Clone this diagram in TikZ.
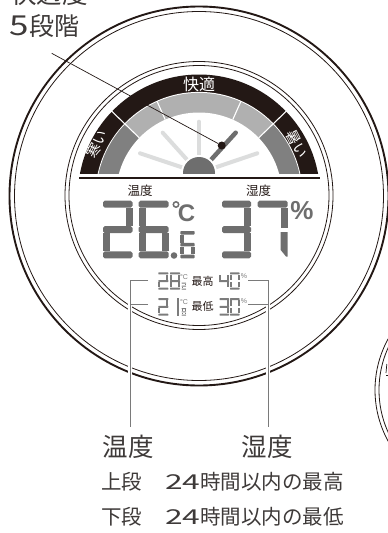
\documentclass[tikz,border=0pt]{standalone}
\usepackage{fontspec}
\usepackage{graphicx}
\setmainfont{Noto Sans CJK JP}
\newfontfamily\lat{Liberation Sans}
\definecolor{ink}{HTML}{231815}
\definecolor{capt}{HTML}{3E3A39}
\definecolor{seg}{HTML}{6E6E6E}
\definecolor{segl}{HTML}{7C7C7C}
\definecolor{lead}{HTML}{7A7A7A}
\definecolor{bandd}{HTML}{808080}
\definecolor{bandl}{HTML}{B0B0B0}
\definecolor{fan}{HTML}{DCDDDD}
\newcommand\fsz[1]{\fontsize{#1pt}{#1pt}\selectfont}
\newcommand\sga{\fill[fill=\dc,rounded corners=\rc pt] (\xa,\ya) rectangle (\xb,\ya+\tk);}
\newcommand\sgd{\fill[fill=\dc,rounded corners=\rc pt] (\xa,\yb-\tk) rectangle (\xb,\yb);}
\newcommand\sgg{\fill[fill=\dc,rounded corners=\rc pt] (\xa,\ym-\tk/2) rectangle (\xb,\ym+\tk/2);}
\newcommand\sgf{\fill[fill=\dc] (\xa,\ya+\tk+\gp) rectangle (\xa+\tk,\ym-\tk/2-\gp);}
\newcommand\sgb{\fill[fill=\dc] (\xb-\tk,\ya+\tk+\gp) rectangle (\xb,\ym-\tk/2-\gp);}
\newcommand\sge{\fill[fill=\dc] (\xa,\ym+\tk/2+\gp) rectangle (\xa+\tk,\yb-\tk-\gp);}
\newcommand\sgc{\fill[fill=\dc] (\xb-\tk,\ym+\tk/2+\gp) rectangle (\xb,\yb-\tk-\gp);}
% digit: x0,y0,x1,y1,thickness,colour,segments
\newcommand\dgt[7]{%
  \def\xa{#1}\def\ya{#2}\def\xb{#3}\def\yb{#4}\def\tk{#5}\def\dc{#6}%
  \def\gp{0.3}\pgfmathsetmacro\ym{(#2+#4)/2}\pgfmathsetmacro\rc{#5/4}%
  \foreach \s in {#7}{\csname sg\s\endcsname}}
\tikzset{
  ringthick/.style={draw=ink,line width=1.9pt},
  ringthin/.style={draw=ink,line width=0.8pt},
  leadline/.style={draw=lead,line width=0.9pt},
  halo/.style={draw=white,line width=3.6pt},
  lbl/.style={inner sep=0pt,text=ink},
  caplbl/.style={inner sep=0pt,text=capt},
  onband/.style={inner sep=0pt,text=white,font=\fsz{14.5}},
  spoke/.style={draw=fan,line width=4pt,line cap=round},
  pointer/.style={draw=seg,line width=4.5pt,line cap=round},
}
\begin{document}
\begin{tikzpicture}[x=1pt,y=-1pt]
\useasboundingbox (0,0) rectangle (388,533);
\clip (0,0) rectangle (388,533);
% outer rings
\draw[ringthick] (199,196) circle[radius=189.5];
\draw[ringthin] (199,196) circle[radius=184.5];
% right partial dial
\draw[ringthin] (481,390) circle[radius=106];
\draw[ringthin] (481,390) circle[radius=102];
\draw[draw=ink,line width=0.7pt] (386.8,364) -- (386,373);
\draw[draw=ink,line width=0.7pt] (386,375) -- (388,375);
% dial rings
\draw[ringthin] (199,195.5) circle[radius=134];
\draw[ringthin] (199,195.5) circle[radius=130];
% gauge
\begin{scope}
\clip (0,0) rectangle (388,173);
\fill[ink] (199,195.5) circle[radius=121];
\fill[white] (199,195.5) circle[radius=103.6];
\fill[bandl] (199,195.5) circle[radius=102.6];
\begin{scope}[shift={(199,195.5)},y=1pt]
\begin{scope}
\clip (0,0) circle[radius=102.6];
\fill[bandd] (0,0) -- (136:125) -- (180:125) -- (200:125) -- cycle;
\fill[bandd] (0,0) -- (44:125) -- (0:125) -- (-20:125) -- cycle;
\end{scope}
\fill[white] (0,0) circle[radius=83];
\draw[white,line width=1.1pt] (136:83) -- (136:122);
\draw[white,line width=1.1pt] (44:83) -- (44:122);
\draw[white,line width=1.1pt] (114:83) -- (114:103);
\draw[white,line width=1.1pt] (66:83) -- (66:103);
\end{scope}
\coordinate (hub) at (199,173);
\coordinate (s1) at (140,153.3);
\coordinate (s2) at (162.7,132.7);
\coordinate (s3) at (199,121.7);
\coordinate (s4) at (257.3,153.3);
\coordinate (s5) at (235.7,132.7);
\draw[spoke] (s1) -- (hub);
\draw[spoke] (s2) -- (hub);
\draw[spoke] (s3) -- (hub);
\draw[spoke] (s4) -- (hub);
\draw[pointer] (s5) -- (hub);
\fill[white] (hub) circle[radius=18];
\fill[seg] (hub) circle[radius=16];
\end{scope}
\node[onband] (kaiteki) at (199,84) {\fsz{16}快適};
\node[onband,rotate=63] (samui) at (97,144) {寒い};
\node[onband,rotate=-63] (atsui) at (297,144) {暑い};
% pointer dot and leader
\node[circle,fill=ink,inner sep=0pt,minimum size=8pt] (dot) at (221.7,145.5) {};
\coordinate (lstart) at (51.7,53.3);
\draw[draw=ink,line width=0.7pt] (lstart) -- (dot);
% divider
\coordinate (da) at (79,178);
\coordinate (db) at (320,178);
\draw[draw=ink,line width=1.7pt] (da) -- (db);
\node[lbl,font=\fsz{12.5}] (ondo) at (140,190.5) {温度};
\node[lbl,font=\fsz{12.5}] (shitsudo) at (258.5,190.5) {湿度};
% big digits
\dgt{103}{200.7}{132.5}{258.3}{7}{seg}{a,b,g,e,d}
\dgt{138.7}{200.7}{168.7}{258.3}{7}{seg}{a,f,g,e,c,d}
\dgt{180.3}{231}{194.7}{258.3}{3.6}{seg}{a,f,g,e,c,d}
\fill[seg] (174,255.5) circle[radius=3.3];
\draw[draw=seg,line width=1.5pt] (176,204.5) circle[radius=2.7];
\node[inner sep=0pt,text=seg,font=\lat\bfseries\fsz{24}] (degc) at (186.5,213.5) {C};
\dgt{222}{200.7}{251}{258.3}{7}{seg}{a,b,g,c,d}
\fill[seg] (257.7,200.7) [rounded corners=1.7pt] rectangle (287.7,207.7);
\fill[seg] (280.7,208) rectangle (287.7,227.5);
\fill[seg] (280.7,232) -- (287.7,232) -- (287.7,256.5) -- (286,256.5) -- (280.7,250) -- cycle;
\node[inner sep=0pt,text=seg,font=\lat\bfseries\fsz{26}] (pct) at (302,210.5) {\%};
% upper small row
\dgt{158.3}{272.3}{168.3}{289.7}{2}{segl}{a,b,g,e,d}
\dgt{170}{272.3}{180}{289.7}{2}{segl}{a,b,f,g,e,c,d}
\dgt{181.7}{282.5}{186}{289.7}{1.1}{segl}{a,b,g,e,d}
\node[inner sep=0pt,text=segl,font=\lat\fsz{7}] (c1) at (184,277) {°C};
\node[lbl,font=\fsz{11}] (saiko) at (202.5,281) {最高};
\dgt{219}{272.3}{229}{289.7}{2}{segl}{f,b,g,c}
\dgt{230}{272.3}{239.5}{289.7}{2}{segl}{a,b,f,e,c,d}
\node[inner sep=0pt,text=segl,font=\lat\fsz{7}] (p1) at (244,276) {\%};
% lower small row
\dgt{158.3}{298}{168.3}{315.7}{2}{segl}{a,b,g,e,d}
\fill[segl] (176.6,298) rectangle (178.7,315.7);
\dgt{181.7}{308}{186}{315.7}{1.1}{segl}{a,b,f,g,e,c,d}
\node[inner sep=0pt,text=segl,font=\lat\fsz{7}] (c2) at (184,302) {°C};
\node[lbl,font=\fsz{11}] (saitei) at (202.5,306.5) {最低};
\dgt{219.5}{298}{229}{315.7}{2}{segl}{a,b,g,c,d}
\dgt{230}{298}{239.5}{315.7}{2}{segl}{a,b,f,e,c,d}
\node[inner sep=0pt,text=segl,font=\lat\fsz{7}] (p2) at (244,301) {\%};
% leaders
\coordinate (l1) at (148,280.7);
\coordinate (l1c) at (130,280.7);
\coordinate (l1e) at (130,427);
\coordinate (l2) at (148,304.3);
\coordinate (l2e) at (130,304.3);
\coordinate (r1) at (248,280.7);
\coordinate (r1c) at (268,280.7);
\coordinate (r1e) at (268,427);
\coordinate (r2) at (248,304.3);
\coordinate (r2e) at (268,304.3);
\draw[halo] (l1c) -- (l1e);
\draw[halo] (r1c) -- (r1e);
\draw[leadline] (l1) -- (l1c) -- (l1e);
\draw[leadline] (l2) -- (l2e);
\draw[leadline] (r1) -- (r1c) -- (r1e);
\draw[leadline] (r2) -- (r2e);
% captions
\node[caplbl,font=\fsz{25.5},anchor=west] (t1) at (11,-6) {快適度};
\node[caplbl,font=\fsz{25},anchor=west] (t2) at (9.5,26) {\scalebox{1.4}[1.1]{5}段階};
\node[caplbl,font=\fsz{25.5}] (b1) at (128.3,447) {温度};
\node[caplbl,font=\fsz{25.5}] (b2) at (267,447) {湿度};
\node[caplbl,font=\fsz{20.5},anchor=west] (b3) at (101,482) {上段};
\node[caplbl,font=\fsz{20.5},anchor=west] (b4) at (165,482) {\scalebox{1.55}[1]{24}時間以内の最高};
\node[caplbl,font=\fsz{20.5},anchor=west] (b5) at (101,516.7) {下段};
\node[caplbl,font=\fsz{20.5},anchor=west] (b6) at (165,516.7) {\scalebox{1.55}[1]{24}時間以内の最低};
\end{tikzpicture}
\end{document}
